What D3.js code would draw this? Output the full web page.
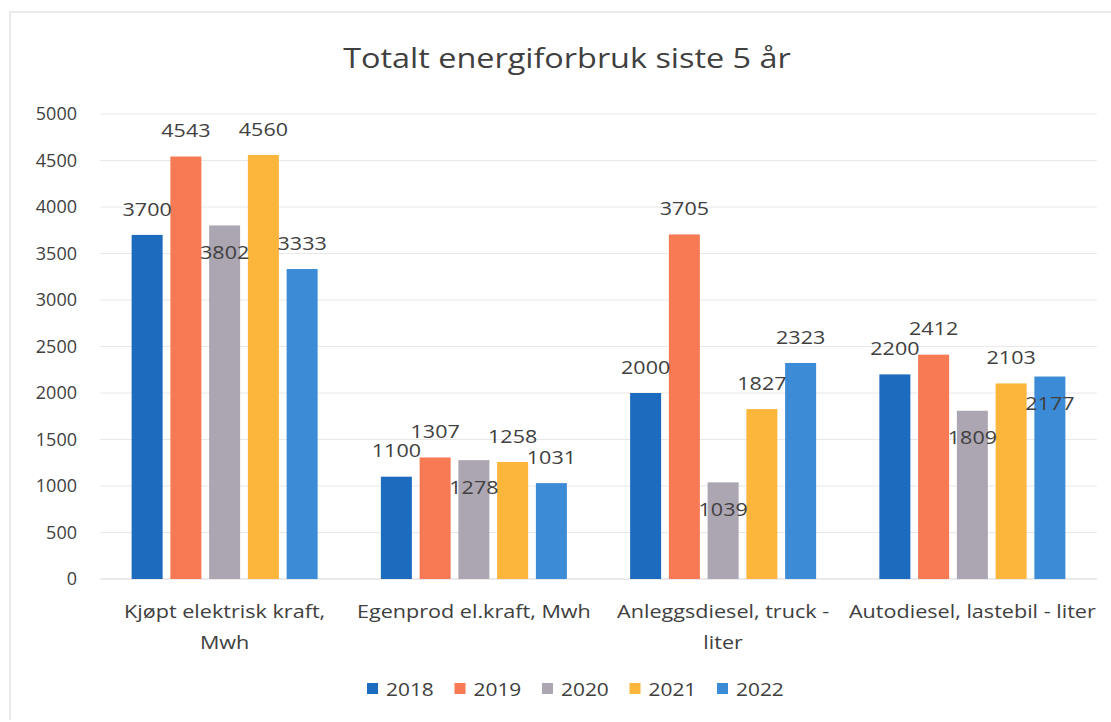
<!DOCTYPE html>
<html>
<head>
<meta charset="utf-8">
<script src="https://cdn.jsdelivr.net/npm/d3@7"></script>
<style>
  body { margin: 0; background: #fff; }
  text { font-family: "Open Sans", sans-serif; fill: #404040; }
</style>
</head>
<body>
<script>
// data
const categories = ["Kjøpt elektrisk kraft, Mwh", "Egenprod el.kraft, Mwh", "Anleggsdiesel, truck - liter", "Autodiesel, lastebil - liter"];
const categoryLines = [["Kjøpt elektrisk kraft,", "Mwh"], ["Egenprod el.kraft, Mwh"], ["Anleggsdiesel, truck -", "liter"], ["Autodiesel, lastebil - liter"]];
const years = ["2018", "2019", "2020", "2021", "2022"];
const v2018 = [3700, 1100, 2000, 2200];
const v2019 = [4543, 1307, 3705, 2412];
const v2020 = [3802, 1278, 1039, 1809];
const v2021 = [4560, 1258, 1827, 2103];
const v2022 = [3333, 1031, 2323, 2177];
const yTicks = [0, 500, 1000, 1500, 2000, 2500, 3000, 3500, 4000, 4500, 5000];
const colors = ["#1c6bbf", "#f77a54", "#aca5b2", "#fbb63b", "#3c8bd7"];

const seriesValues = [v2018, v2019, v2020, v2021, v2022];
// labels Excel pushed inside the bar top (series index, category index)
const insideLabels = [[2, 0], [2, 1], [2, 2], [2, 3], [4, 3]];

const W = 1111, H = 722;
const svg = d3.select("body").append("svg")
  .attr("width", W)
  .attr("height", H);

svg.append("rect")
  .attr("x", 0).attr("y", 0).attr("width", W).attr("height", H)
  .attr("fill", "#fff");
// faint frame of the scanned chart
svg.append("path")
  .attr("d", "M10,720 L10,12 L1111,12")
  .attr("fill", "none")
  .attr("stroke", "#e4e4e4")
  .attr("stroke-width", 1.5);

// the scan is a bit stretched sideways, so text gets a horizontal scale
svg.append("text")
  .attr("transform", "translate(567,68) scale(1.2,1)")
  .attr("text-anchor", "middle")
  .style("font-size", "27px")
  .text("Totalt energiforbruk siste 5 år");

const x0 = d3.scaleBand().domain(categories).range([100, 1097]);
const x1 = d3.scaleBand().domain(years).range([0, x0.bandwidth()])
  .paddingInner(0.2).paddingOuter(0.816);
const y = d3.scaleLinear().domain([0, 5000]).range([579, 114]);

// gridlines
svg.append("g")
  .selectAll("line")
  .data(yTicks)
  .join("line")
  .attr("x1", 100).attr("x2", 1097)
  .attr("y1", d => y(d)).attr("y2", d => y(d))
  .attr("stroke", d => d === 0 ? "#d6d6d6" : "#e8e8e8")
  .attr("stroke-width", 1);

// y axis labels
const yAxis = svg.append("g")
  .attr("transform", "translate(80,0)")
  .call(d3.axisLeft(y).tickValues(yTicks).tickFormat(d3.format("d")).tickSize(0).tickPadding(0));
yAxis.select(".domain").remove();
yAxis.selectAll("text")
  .style("font-size", "18px")
  .style("font-family", "Open Sans")
  .attr("fill", "#505050")
  .attr("x", -3);

// bars
const groups = svg.append("g")
  .selectAll("g")
  .data(categories)
  .join("g")
  .attr("transform", d => `translate(${x0(d)},0)`);

groups.selectAll("rect")
  .data((c, ci) => years.map((yr, si) => ({ yr, si, ci, v: seriesValues[si][ci] })))
  .join("rect")
  .attr("x", d => x1(d.yr))
  .attr("width", x1.bandwidth())
  .attr("y", d => y(d.v))
  .attr("height", d => y(0) - y(d.v))
  .attr("fill", d => colors[d.si]);

// value labels
const isInside = d => insideLabels.some(p => p[0] === d.si && p[1] === d.ci);
groups.selectAll("text.val")
  .data((c, ci) => years.map((yr, si) => ({ yr, si, ci, v: seriesValues[si][ci] })))
  .join("text")
  .attr("class", "val")
  .attr("transform", d => {
    const lx = x1(d.yr) + x1.bandwidth() / 2;
    const ly = isInside(d) ? y(d.v) + 27 : y(d.v) - 26;
    return `translate(${lx},${ly}) scale(1.13,1)`;
  })
  .attr("dy", "0.35em")
  .attr("text-anchor", "middle")
  .style("font-size", "19px")
  .text(d => d.v);

// category labels
const catLabels = svg.append("g")
  .selectAll("text")
  .data(categories)
  .join("text")
  .attr("transform", d => `translate(${x0(d) + x0.bandwidth() / 2},618) scale(1.2,1)`)
  .attr("text-anchor", "middle")
  .style("font-size", "18px");
catLabels.selectAll("tspan")
  .data((d, i) => categoryLines[i])
  .join("tspan")
  .attr("x", 0)
  .attr("dy", (d, i) => i === 0 ? 0 : 31)
  .text(d => d);

// legend
const legend = svg.append("g")
  .selectAll("g")
  .data(years)
  .join("g")
  .attr("transform", (d, i) => `translate(${367 + i * 87.5},689)`);
legend.append("rect")
  .attr("x", 0).attr("y", -6)
  .attr("width", 11).attr("height", 11)
  .attr("fill", (d, i) => colors[i]);
legend.append("text")
  .attr("transform", "translate(19,0) scale(1.1,1)")
  .attr("dy", "0.35em")
  .style("font-size", "19px")
  .text(d => d);
</script>
</body>
</html>
